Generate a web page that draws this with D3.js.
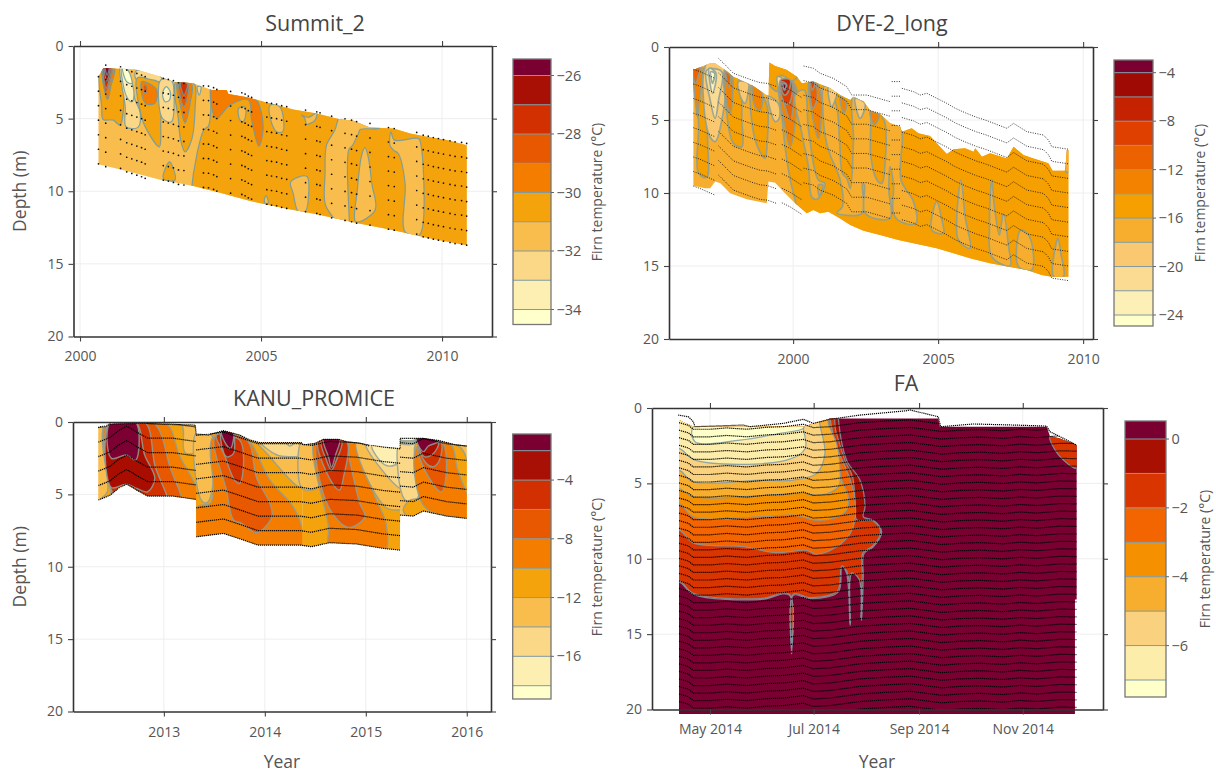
<!DOCTYPE html>
<html><head><meta charset="utf-8">
<script src="https://cdn.jsdelivr.net/npm/d3@7/dist/d3.min.js"></script>
<style>html,body{margin:0;background:#fff}svg{display:block;font-family:"Open Sans",sans-serif}</style>
</head><body><svg id="c" width="1216" height="773"></svg>
<script>
// ---------- shared colour ramps (coldest to warmest) ----------
const ramp10 = ["#ffffcb","#fdefb2","#fad888","#f9bd4e","#f5a30c","#f47d00","#e85800","#d23000","#a80f05","#7b0032"];
const ramp12 = ["#ffffcb","#fdf0b6","#fbdb92","#f9c870","#f7ae2e","#f5a000","#f38200","#ec6200","#df4000","#c42200","#a00a05","#7a0032"];
const ramp9  = ["#ffffca","#fdedab","#fad27f","#f7ae2e","#f59000","#f26500","#d93500","#a81002","#7a0032"];

// ---------- Summit_2 ----------
const summitLevels = [-34,-33,-32,-31,-30,-29,-28,-27,-26];
const summitTicks = [-34,-32,-30,-28,-26];
const summitTop = [[2000.51,2.11],[2000.64,1.54],[2001.52,1.6],[2002.21,2.1],[2002.58,2.46],[2003.13,2.57],[2003.64,3.03],[2004.05,3.03],[2004.1,3.3],[2004.65,3.54],[2004.97,3.77],[2005.43,4.07],[2005.89,4.37],[2006.26,4.53],[2006.54,4.64],[2007.14,5.03],[2007.55,5.15],[2008.01,5.61],[2008.66,5.68],[2009.12,6.02],[2009.58,6.25],[2010.13,6.48],[2010.68,6.83]];
const summitBottom = [[2000.51,8.14],[2001.29,8.6],[2002.21,9.2],[2003.13,9.63],[2003.87,10.1],[2004.7,10.67],[2005.71,11.2],[2006.54,11.59],[2007.64,12.18],[2008.66,12.69],[2009.58,13.2],[2010.68,13.72]];
const summitIsotherms = [
 [-31.5,[[1999.9,0],[2011,15]]],
 [-30.5,[[2003.41,15],[2003.41,5.8],[2003.55,5.5],[2003.62,3],[2003.62,0],[2011.5,0],[2011.5,15]]],
 [-31.5,[[2004.38,4.3],[2004.55,4.2],[2004.58,4.7],[2004.5,5.2],[2004.42,5.1]]],
 [-31.5,[[2005.25,4.07],[2005.52,4.18],[2005.6,5.9],[2005.43,5.9],[2005.27,5.1]]],
 [-31.5,[[2006.12,4.76],[2006.31,4.92],[2006.54,4.6],[2006.49,5.1],[2006.26,5.38],[2006.21,4.97]]],
 [-31.5,[[2005.82,9.36],[2006.26,8.97],[2006.31,10.4],[2006.22,11.4],[2006.03,11.4],[2005.89,10.16]]],
 [-31.5,[[2005.09,10.6],[2005.14,10.3],[2005.2,10.8],[2005.14,10.95]]],
 [-31.5,[[2007.14,4.92],[2007.04,5.79],[2006.81,6.83],[2006.77,8.78],[2006.77,10.85],[2006.95,11.66],[2007.09,12.1],[2007.2,13],[2007.44,13],[2007.44,12.2],[2007.42,7.17],[2007.53,6.83],[2007.69,6.02],[2007.74,5.75],[2008.29,5.61],[2008.3,5],[2007.2,4.5]]],
 [-31.5,[[2007.87,7.0],[2007.78,7.52],[2007.66,9.93],[2007.62,12.1],[2008.15,11.3],[2008.06,9.47],[2007.96,7.63]]],
 [-31.5,[[2008.59,5.91],[2008.68,6.48],[2009.35,6.37],[2009.41,6.71],[2009.37,13.03],[2008.98,12.8],[2008.98,9.47],[2008.79,7.4],[2008.66,7.17],[2008.56,6.83]]],
 [-30.5,[[2000.57,1.54],[2000.6,4.18],[2000.64,5.06],[2000.92,5.1],[2001.1,5.45],[2001.1,1.54]]],
 [-29.5,[[2000.63,1.4],[2000.66,2.8],[2000.76,3.68],[2000.85,2.8],[2000.95,1.4]]],
 [-28.5,[[2000.64,1.4],[2000.71,3.2],[2000.88,1.4]]],
 [-27.5,[[2000.66,1.4],[2000.72,2.9],[2000.85,1.4]]],
 [-26.5,[[2000.68,1.4],[2000.74,2.4],[2000.82,1.4]]],
 [-25.5,[[2000.7,1.4],[2000.75,2.0],[2000.8,1.4]]],
 [-32.5,[[2001.1,1.5],[2001.25,4.18],[2001.27,5.56],[2001.6,5.6],[2001.66,4.6],[2001.52,3.7],[2001.38,2.47],[2001.15,1.5]]],
 [-33.5,[[2001.15,1.5],[2001.29,3.5],[2001.43,3.84],[2001.49,3.38],[2001.38,2.1],[2001.2,1.5]]],
 [-34.5,[[2001.18,1.5],[2001.29,2.46],[2001.43,2.57],[2001.33,1.7]]],
 [-32.5,[[2001.55,1.7],[2002.2,2.0],[2002.25,2.4],[2001.55,2.3]]],
 [-30.5,[[2001.58,2.2],[2001.7,4.87],[2001.8,5.56],[2002.19,6.94],[2002.23,5.33],[2002.21,2.57],[2001.93,2.3]]],
 [-29.5,[[2001.7,2.46],[2001.75,3.72],[2001.84,4.0],[2002.07,3.95],[2002.12,3.03],[2001.89,2.57]]],
 [-28.5,[[2001.75,2.76],[2001.8,3.26],[2001.86,3.03],[2001.82,2.7]]],
 [-32.5,[[2002.23,2.34],[2002.25,4.87],[2002.39,5.2],[2002.53,5.2],[2002.6,3.7],[2002.53,2.4]]],
 [-33.5,[[2002.28,3.26],[2002.35,3.84],[2002.47,3.72],[2002.49,3.15],[2002.38,2.8]]],
 [-30.5,[[2002.65,2.46],[2002.72,5.1],[2002.78,6.48],[2002.9,7.29],[2003.08,6.48],[2003.18,4.18],[2003.15,2.57]]],
 [-29.5,[[2002.69,2.5],[2002.76,3.95],[2002.9,5.29],[2003.04,3.95],[2003.08,2.6]]],
 [-28.5,[[2002.74,2.5],[2002.87,4.18],[2002.99,2.6]]],
 [-27.5,[[2002.78,2.5],[2002.87,3.38],[2002.96,2.6]]],
 [-30.5,[[2002.47,7.98],[2002.3,9.13],[2002.62,9.24],[2002.56,8.32]]],
 [-32.5,[[2003.24,2.8],[2003.29,3.38],[2003.34,2.8]]],
 [-29.5,[[2003.64,2.69],[2003.76,5.0],[2004.14,4.07],[2004.65,3.72],[2004.74,5.1],[2004.94,6.9],[2005.06,5.56],[2004.88,3.72],[2004.65,3.38],[2004.05,2.8]]]
];
const summitDotTime = [2000.51,2000.71,2001.12,2001.29,2001.43,2001.57,2001.7,2001.8,2002.3,2002.44,2002.58,2002.72,2002.87,2003.41,2003.55,2003.69,2003.78,2004.16,2004.47,2004.56,2004.65,2004.74,2005.16,2005.29,2005.43,2005.57,2005.71,2006.23,2006.54,2006.63,2006.95,2007.32,2007.5,2007.64,2008.01,2008.52,2008.68,2009.3,2009.48,2009.62,2009.76,2009.9,2010.04,2010.22,2010.36,2010.54,2010.68];
const summitDotTop = [2.11,1.31,1.43,1.66,1.77,1.89,2.0,2.11,2.23,2.3,2.39,2.53,2.57,2.74,2.76,2.87,2.99,3.13,3.22,3.31,3.45,3.54,3.89,3.95,4.0,4.11,4.18,4.41,4.53,4.6,4.83,5.01,5.1,5.2,5.33,5.61,5.68,5.95,6.14,6.21,6.3,6.37,6.44,6.53,6.6,6.64,6.71];
const summitDotRows = [7,8,8,8,8,8,8,8,8,8,8,8,8,8,8,8,8,8,8,8,8,8,8,8,8,8,8,8,8,8,8,8,8,8,8,8,8,8,8,8,8,8,8,8,8,8,8];

// ---------- DYE-2_long ----------
const dyeLevels = [-24,-22,-20,-18,-16,-14,-12,-10,-8,-6,-4];
const dyeTicks = [-24,-20,-16,-12,-8,-4];
const dyeTop = [[1996.56,1.58],[1996.79,1.39],[1997.14,1.12],[1997.31,1.12],[1997.66,1.58],[1997.94,2.03],[1998.57,2.6],[1999.09,3.29],[1999.15,3.29],[1999.18,1.07],[1999.38,1.3],[1999.78,1.58],[2000.13,2.03],[2000.3,2.49],[2000.7,2.37],[2001.28,2.83],[2001.62,3.29],[2001.97,3.63],[2002.08,3.4],[2002.43,3.74],[2002.66,4.36],[2003.0,4.59],[2003.34,5.23],[2003.69,5.46],[2003.75,5.8],[2004.09,5.57],[2004.32,5.91],[2004.72,6.1],[2004.95,6.6],[2005.3,7.33],[2005.53,7.01],[2005.93,6.94],[2006.22,7.17],[2006.28,6.94],[2006.51,7.51],[2006.79,7.28],[2007.37,7.63],[2007.6,6.83],[2007.94,7.4],[2008.29,7.63],[2008.8,7.97],[2008.95,8.47],[2009.38,8.47],[2009.44,7.05],[2009.49,7.05]];
const dyeBottom = [[1996.56,9.5],[1996.96,9.68],[1997.14,9.68],[1997.31,9.22],[1997.49,9.34],[1997.83,10.02],[1998.4,10.43],[1999.09,10.71],[1999.15,9.22],[1999.38,9.29],[1999.72,10.02],[2000.07,10.71],[2000.47,11.39],[2000.7,11.16],[2000.93,11.39],[2001.22,11.28],[2001.62,11.74],[2001.97,12.19],[2002.43,12.58],[2003.0,12.88],[2003.63,13.22],[2004.15,13.45],[2004.95,13.79],[2005.53,14.13],[2006.1,14.47],[2006.79,14.82],[2007.43,15.05],[2008.06,15.27],[2008.57,15.62],[2008.92,15.73],[2009.49,15.73],[2009.49,14.7]];
const dyeIsotherms = [
 [-17,[[1996,0],[2010,20]]],
 [-15,[[1999.55,2.2],[1999.67,5.9],[1999.9,9.1],[2000.07,10.5],[2000.13,11.4],[2000.13,18],[2010.5,18],[2010.5,0],[1999.6,0]]],
 [-15,[[1996.59,1.46],[1996.74,5.23],[1996.74,8.65],[1997.02,8.93],[1997.05,6.37],[1996.91,1.46]]],
 [-13,[[1996.56,1.46],[1996.62,3.4],[1996.7,4.77],[1996.79,3.4],[1996.85,1.58]]],
 [-11,[[1996.56,1.46],[1996.63,2.49],[1996.76,1.8],[1996.79,1.46]]],
 [-19,[[1996.93,1.58],[1997.08,5.91],[1997.31,6.48],[1997.54,5.0],[1997.66,1.35],[1997.14,0.89]]],
 [-21,[[1997.02,1.58],[1997.14,3.63],[1997.31,4.89],[1997.43,3.63],[1997.54,1.69]]],
 [-23,[[1997.11,1.46],[1997.22,3.17],[1997.34,1.8]]],
 [-25,[[1997.16,1.69],[1997.22,2.49],[1997.29,1.8]]],
 [-15,[[1997.66,1.46],[1997.71,4.54],[1997.94,6.6],[1998.23,6.83],[1998.23,5.0],[1998.15,2.26],[1997.83,1.69]]],
 [-13,[[1997.66,1.69],[1997.71,3.86],[1997.83,4.54],[1997.92,2.95],[1997.89,1.92]]],
 [-11,[[1997.69,1.69],[1997.77,2.72],[1997.85,2.03]]],
 [-19,[[1998.11,2.37],[1998.23,3.63],[1998.34,3.86],[1998.46,2.95],[1998.46,2.49]]],
 [-15,[[1998.57,2.6],[1998.69,6.37],[1999.03,7.63],[1999.11,6.37],[1999.11,4.09],[1998.92,3.29]]],
 [-13,[[1998.61,2.6],[1998.69,4.09],[1998.86,4.36],[1998.94,3.29],[1998.77,2.72]]],
 [-19,[[1999.15,3.4],[1999.38,5.11],[1999.52,4.89],[1999.49,3.86]]],
 [-15,[[1999.11,0.89],[1999.11,2.37],[1999.49,3.06],[1999.84,2.49],[2000.13,2.08],[2000.13,0.89]]],
 [-17,[[1999.45,2.2],[1999.6,1.95],[1999.8,2.2],[1999.62,2.35]]],
 [-21,[[1999.46,2.03],[1999.57,3.63],[1999.61,2.15]]],
 [-13,[[1999.55,2.6],[1999.72,5.46],[1999.9,6.83],[2000.07,5.23],[2000.13,2.95],[1999.95,2.37]]],
 [-11,[[1999.55,2.49],[1999.76,4.32],[1999.9,5.0],[2000.01,3.86],[1999.99,2.49]]],
 [-9,[[1999.55,2.37],[1999.72,3.86],[1999.86,3.86],[1999.95,2.37]]],
 [-7,[[1999.57,2.26],[1999.69,3.29],[1999.8,3.17],[1999.9,2.26]]],
 [-5,[[1999.61,2.37],[1999.7,2.95],[1999.78,2.6]]],
 [-3,[[1999.64,2.49],[1999.7,2.9],[1999.76,2.6]]],
 [-17,[[2000.07,3.29],[2000.3,5.91],[2000.53,8.2],[2000.64,10.25],[2000.82,10.43],[2001.1,9.34],[2000.87,9.11],[2000.53,5.68],[2000.38,2.95]]],
 [-15,[[2000.87,9.45],[2001.03,9.45],[2000.9,10.2]]],
 [-13,[[2000.56,2.37],[2000.61,4.09],[2000.87,6.26],[2000.99,4.09],[2000.93,2.95],[2000.82,2.49]]],
 [-11,[[2000.59,2.3],[2000.68,4.2],[2000.82,3.63],[2000.79,2.6]]],
 [-9,[[2000.61,2.37],[2000.66,2.95],[2000.74,2.49]]],
 [-17,[[2001.05,2.72],[2001.22,2.72],[2001.51,4.2],[2001.6,6.37],[2001.7,8.65],[2001.85,9.0],[2001.97,9.68],[2002.08,6.37],[2002.08,3.29],[2002.54,3.74],[2002.66,4.43],[2002.68,7.51],[2002.89,9.11],[2003.06,9.34],[2003.17,7.97],[2003.17,5.23],[2003.06,4.66],[2003.69,5.34],[2003.72,9.11],[2004.15,10.59],[2004.23,12.08],[2003.69,11.96],[2003.46,11.39],[2003.46,9.34],[2003.34,8.2],[2003.3,9.79],[2003.34,11.74],[2002.48,11.39],[2002.46,9.45],[2002.39,9.34],[2002.37,11.39],[2001.51,11.35],[2001.7,10.94],[2001.62,9.11],[2001.28,7.4],[2001.13,6.37],[2001.02,4.09]]],
 [-19,[[2002.14,3.52],[2002.31,4.89],[2002.48,3.86]]],
 [-19,[[2001.22,2.72],[2001.33,4.09],[2001.51,2.95]]],
 [-13,[[2002.66,4.43],[2002.8,5.34],[2002.97,4.66]]],
 [-13,[[2001.62,3.4],[2001.74,4.54],[2001.85,3.86]]],
 [-17,[[2004.95,10.59],[2004.78,12.53],[2005.18,12.76],[2005.13,11.85]]],
 [-17,[[2005.79,9.11],[2005.64,11.85],[2005.7,13.22],[2006.1,13.79],[2005.93,11.62]]],
 [-17,[[2006.85,9.06],[2006.77,12.3],[2006.85,14.36],[2007.48,15.0],[2007.43,13.68],[2007.25,11.39],[2007.11,12.88],[2006.94,10.94]]],
 [-17,[[2007.85,12.53],[2007.77,15.05],[2008.23,15.27],[2008.15,12.99]]],
 [-17,[[2009.13,13.1],[2008.98,15.73],[2009.32,15.73],[2009.23,14.13]]],
 [-17,[[2009.44,7.05],[2009.41,8.55],[2009.55,8.55],[2009.55,7.05]]]
];
const dyeSensorTops = [
 [[1996.56,1.53],[1996.79,1.69],[1997.31,2.15]],
 [[1997.43,0.78],[1997.66,1.23],[1997.94,1.8],[1998.57,2.26],[1998.86,2.44],[1999.11,2.49],[1999.44,2.72]],
 [[1999.61,2.67],[1999.9,2.95],[2000.3,3.47]],
 [[2000.36,1.3],[2000.7,1.46],[2000.93,1.8],[2001.39,2.15],[2001.85,2.72],[2002.02,3.29],[2002.54,3.29],[2003.34,3.74]],
 [[2003.4,2.37],[2003.69,2.37]],
 [[2003.75,2.83],[2004.15,3.06],[2004.38,3.29],[2004.61,3.17],[2005.3,3.86],[2005.59,4.2],[2005.93,4.5],[2006.33,4.82],[2006.62,5.0],[2007.37,5.57],[2007.6,5.23],[2008.06,5.8],[2008.63,6.03],[2008.8,6.37],[2008.92,6.83],[2009.49,7.0]]
];
const dyeSensorRows = [9,9,9,9,10,10];

// ---------- KANU_PROMICE ----------
const kanuLevels = [-18,-16,-14,-12,-10,-8,-6,-4,-2];
const kanuTicks = [-16,-12,-8,-4];
const kanuTop = [[2012.35,0.37],[2012.42,0.32],[2012.47,0.14],[2012.83,0.09],[2012.99,0.16],[2013.31,0.21],[2013.32,0.83],[2013.44,0.9],[2013.59,0.6],[2013.75,0.9],[2013.85,1.24],[2013.95,1.43],[2014.36,1.43],[2014.38,1.59],[2014.5,1.47],[2014.58,1.2],[2014.73,1.2],[2014.81,1.36],[2014.94,1.47],[2015.04,1.66],[2015.34,1.82],[2015.34,1.13],[2015.57,1.13],[2015.73,1.29],[2015.9,1.59],[2016.0,1.66]];
const kanuBottom = [[2012.35,5.39],[2012.47,5.05],[2012.56,4.5],[2012.63,4.29],[2012.73,4.7],[2012.84,5.12],[2013.09,5.12],[2013.32,5.35],[2013.32,7.93],[2013.59,7.7],[2013.79,8.16],[2013.93,8.5],[2014.35,8.5],[2014.46,8.62],[2014.64,8.34],[2014.91,8.43],[2015.17,8.73],[2015.34,8.85],[2015.34,6.43],[2015.47,6.5],[2015.57,6.15],[2015.8,6.5],[2016.0,6.66]];
const kanuIsotherms = [
 [-13,[[2012.2,0],[2013.32,6]]],
 [-11,[[2012.43,0],[2012.44,4.82],[2012.36,5.5],[2012.5,6.3],[2013.36,6.3],[2013.36,2.28],[2013.21,2.12],[2013.16,0]]],
 [-9,[[2012.44,0],[2012.47,4.59],[2012.53,6.08],[2013.36,6.08],[2013.31,4.35],[2013.16,2.4],[2013.01,0]]],
 [-7,[[2012.46,0],[2012.48,4.59],[2012.56,6.08],[2013.17,6.08],[2013.06,3.09],[2012.89,0]]],
 [-5,[[2012.47,0],[2012.48,4.7],[2012.66,6.08],[2013.04,6.08],[2012.91,2.97],[2012.81,0]]],
 [-3,[[2012.47,0],[2012.48,4.52],[2012.63,4.29],[2012.73,4.59],[2012.84,4.82],[2012.91,3.89],[2012.81,2.28],[2012.72,0]]],
 [-1,[[2012.47,0],[2012.48,2.51],[2012.63,2.28],[2012.72,2.63],[2012.72,0]]],
 [-11,[[2013.32,0],[2014.37,9.5]]],
 [-13,[[2013.32,0.78],[2013.37,5.39],[2013.42,5.58],[2013.46,5.21],[2013.47,0.9]]],
 [-9,[[2013.32,5.92],[2013.46,5.62],[2013.49,4.7],[2013.49,1.01],[2013.8,1.01],[2014.05,4.01],[2014.28,5.85],[2014.36,7.12],[2014.38,9.5],[2013.32,9.5]]],
 [-7,[[2013.51,1.01],[2013.62,4.7],[2013.69,6.77],[2013.77,7.0],[2013.92,7.65],[2014.07,6.54],[2014.05,5.62],[2013.92,3.89],[2013.82,1.24]]],
 [-5,[[2013.52,0.9],[2013.6,2.28],[2013.7,4.01],[2013.75,4.24],[2013.79,2.63],[2013.75,1.24]]],
 [-3,[[2013.57,0.67],[2013.62,2.4],[2013.69,2.17],[2013.7,1.24],[2013.69,0.5]]],
 [-1,[[2013.57,0.6],[2013.62,1.59],[2013.66,1.82],[2013.69,0.78],[2013.65,0.4]]],
 [-13,[[2013.9,1.0],[2014.05,2.4],[2014.37,4.52],[2014.4,1.0]]],
 [-15,[[2013.95,1.3],[2014.12,2.28],[2014.25,2.4],[2014.36,2.28],[2014.4,1.3]]],
 [-17,[[2014.21,1.4],[2014.25,1.66],[2014.29,1.4]]],
 [-11,[[2014.37,0],[2015.34,9.5]]],
 [-13,[[2014.37,1.2],[2014.5,1.2],[2014.53,4.47],[2014.37,4.59]]],
 [-9,[[2014.5,1.0],[2014.63,7.23],[2014.64,8.6],[2014.97,8.6],[2015.19,8.9],[2015.2,7.0],[2015.09,5.16],[2014.87,1.0]]],
 [-13,[[2014.91,1.0],[2015.19,5.85],[2015.34,6.08],[2015.4,6.0],[2015.4,1.0]]],
 [-15,[[2014.99,1.2],[2015.34,4.59],[2015.4,4.6],[2015.4,1.2]]],
 [-17,[[2015.06,1.59],[2015.19,2.97],[2015.29,2.97],[2015.34,2.63],[2015.36,1.66]]],
 [-7,[[2014.53,1.2],[2014.63,5.85],[2014.83,7.28],[2014.99,6.54],[2014.94,5.62],[2014.84,2.63],[2014.8,1.24]]],
 [-5,[[2014.53,1.3],[2014.68,4.35],[2014.74,4.7],[2014.78,3.78],[2014.81,1.36]]],
 [-3,[[2014.56,1.24],[2014.61,2.63],[2014.66,3.32],[2014.71,2.63],[2014.76,1.29]]],
 [-1,[[2014.58,1.13],[2014.63,2.4],[2014.66,3.13],[2014.7,2.28],[2014.74,1.13]]],
 [-13,[[2015.34,0],[2016.1,7]]],
 [-15,[[2015.34,1.24],[2015.39,5.39],[2015.5,5.39],[2015.51,1.24]]],
 [-17,[[2015.34,1.1],[2015.5,1.1],[2015.48,1.5],[2015.34,1.45]]],
 [-19,[[2015.34,1.1],[2015.5,1.1],[2015.48,1.4],[2015.34,1.35]]],
 [-19,[[2015.34,1.1],[2015.5,1.1],[2015.48,1.32],[2015.34,1.28]]],
 [-19,[[2015.34,1.1],[2015.5,1.1],[2015.48,1.25],[2015.34,1.22]]],
 [-11,[[2015.5,1.47],[2015.55,5.16],[2015.44,5.39],[2015.37,6.08],[2015.47,6.77],[2016.05,6.77],[2016.05,4.93],[2015.93,1.7]]],
 [-9,[[2015.51,1.7],[2015.58,5.85],[2015.86,6.54],[2016.05,6.54],[2015.91,3.32],[2015.83,1.47]]],
 [-7,[[2015.52,1.59],[2015.62,3.78],[2015.75,4.82],[2015.8,2.97],[2015.75,1.36]]],
 [-5,[[2015.52,1.47],[2015.6,2.86],[2015.67,3.09],[2015.73,2.63],[2015.74,1.36]]],
 [-3,[[2015.52,1.24],[2015.58,2.4],[2015.67,2.17],[2015.72,1.36]]],
 [-1,[[2015.5,1.13],[2015.57,2.05],[2015.62,1.66],[2015.72,1.36],[2015.58,1.06]]]
];
const kanuSensorBases = [
 [[2012.35,5.39],[2012.42,5.2],[2012.47,5.05],[2012.55,4.6],[2012.63,4.29],[2012.68,4.47],[2012.73,4.7],[2012.84,5.12],[2013.09,5.12],[2013.32,5.35]],
 [[2013.32,7.93],[2013.59,7.7],[2013.79,8.16],[2013.93,8.5],[2014.35,8.5],[2014.46,8.62],[2014.64,8.34],[2014.91,8.43],[2015.17,8.73],[2015.34,8.85]],
 [[2015.34,6.43],[2015.47,6.5],[2015.57,6.15],[2015.8,6.5],[2016.0,6.66]]
];
const kanuSensorRows = [6,8,6];

// ---------- FA ----------
const faLevels = [-7,-6,-5,-4,-3,-2,-1,0];
const faTicks = [-6,-4,-2,0];
const faTickDays = [121,182,244,305];
const faTickLabels = ["May 2014","Jul 2014","Sep 2014","Nov 2014"];
const faTop = [[102.8,0.8],[111.2,1.24],[175.9,1.24],[190.6,0.75],[191.6,0.69],[255.3,0.69],[256.3,1.24],[319,1.24],[321,1.86],[326.9,2.02],[336.7,2.46]];
const faBottom = [[102.8,20.3],[335.7,20.3],[335.7,12.7],[336.7,12.7]];
const faIsotherms = [
 [0.5,[[90,0],[345,21]]],
 [-0.5,[[196.5,0],[196.5,0.69],[201.4,3.46],[209.2,4.78],[212.2,6.56],[211.2,7.22],[217.1,7.44],[222,8.22],[217.1,9.21],[211.6,9.66],[211.2,11.21],[210.2,14.09],[208.8,11.0],[204.3,10.99],[203.4,14.42],[201.4,10.99],[198.5,10.43],[196.5,12.2],[179.8,12.65],[170,12.43],[169,16.3],[167.7,12.43],[150.4,12.71],[111.2,12.36],[102.8,11.54],[90,11.54],[90,0]]],
 [-1.5,[[191.6,0],[195,1.5],[200.4,3.46],[204.9,4.56],[206.3,6.11],[207.3,7.4],[217.1,7.49],[221.4,8.22],[216.6,9.17],[211,9.61],[210.6,11.0],[209.8,13.9],[208.8,11.38],[204.3,10.94],[203.6,14.3],[201.9,10.94],[198.5,10.48],[196,12.14],[179.8,12.58],[170,12.36],[169,15.9],[167.7,12.36],[150.4,12.65],[111.2,12.29],[102.8,11.47],[90,11.47],[90,0]]],
 [-1.5,[[321,1.86],[337,2.4],[337,4.0],[326.9,3.23],[321,2.1]]],
 [-2.5,[[191,0],[191.6,0.69],[195.5,2.57],[201.4,4.12],[205.7,5.67],[206.3,7.44],[203.4,8.33],[195.5,9.21],[183.7,9.7],[177.8,9.44],[160,9.6],[140.6,9.2],[111.2,8.95],[102.8,8.1],[90,8.1],[90,0]]],
 [-3.5,[[189.6,0],[189.6,0.8],[198.5,4.78],[202.4,5.89],[201.4,6.78],[193.5,7.33],[183.7,7.44],[170,7.11],[150.4,7.22],[111.2,7.22],[102.8,6.33],[90,6.33],[90,0]]],
 [-4.5,[[190,0],[190.6,1.02],[195.5,2.35],[197.5,4.12],[196.5,5.23],[185.7,5.78],[175.9,5.67],[111.2,5.89],[102.8,5.34],[90,5.34],[90,0]]],
 [-5.5,[[184,0],[185.7,1.13],[188.6,3.01],[183.7,4.34],[170,4.78],[150.4,4.78],[111.2,4.89],[102.8,4.12],[90,4.12],[90,0]]],
 [-6.5,[[174,0],[175.9,1.35],[177,2.68],[166,3.46],[112.2,3.46],[102.8,2.68],[90,2.68],[90,0]]],
 [-7.5,[[175.9,1.35],[162.2,1.68],[138.6,2.13],[112.2,2.24],[111.2,1.24],[140,1.0],[175.9,1.1]]]
];
const faSurface = [[102.3,0.47],[108.3,0.58],[111.2,0.91],[112.2,1.24],[140.6,1.13],[144.5,1.24],[164.1,1.02],[175.9,0.75],[181.8,1.02],[191.6,0.75],[209.2,0.47],[236.7,0.18],[238.6,0.13],[255.3,0.58],[256.7,1.24],[275.9,1.06],[299.4,1.13],[319,1.2],[321,1.57],[326.9,1.9],[336.7,2.46]];
const faRowShape = [[102.8,0],[108.3,0.18],[111.2,0.44],[121,0.44],[130.8,0.35],[142.6,0.44],[154.3,0.31],[164.1,0.27],[175.9,0.11],[181.8,0.33],[191.6,0.27],[209.2,0],[224.9,-0.11],[238.6,-0.18],[248.5,-0.04],[257.3,0.09],[268.1,0],[279.8,-0.04],[293.5,0.04],[303.4,-0.07],[313.2,0],[326.9,-0.13],[336.7,-0.11]];
const faRowCount = 40;

// ---------- drawing ----------
const svg = d3.select("#c");
const textColor = "#555";
const defs = svg.append("defs");
defs.append("filter").attr("id","soft").attr("x","-5%").attr("y","-5%").attr("width","110%").attr("height","110%").append("feGaussianBlur").attr("stdDeviation",0.7);
defs.append("filter").attr("id","softDots").attr("x","-5%").attr("y","-5%").attr("width","110%").attr("height","110%").append("feGaussianBlur").attr("stdDeviation",0.3);
const polygon = (x,y) => d3.line().x(d=>x(d[0])).y(d=>y(d[1]));
const smoothOutline = (x,y) => polygon(x,y).curve(d3.curveCatmullRomClosed.alpha(0.5));
const fmtTemp = d => d3.format("d")(d).replace("-","\u2212");

function frame(p){
  const g = svg.append("g");
  const x = d3.scaleLinear().domain(p.xd).range([p.l,p.r]);
  const y = d3.scaleLinear().domain([0,20]).range([p.t,p.b]);
  g.append("g").selectAll("line").data(p.xTicks).join("line").attr("x1",x).attr("x2",x).attr("y1",p.t).attr("y2",p.b).attr("stroke","#eeeeee");
  g.append("g").selectAll("line").data([5,10,15]).join("line").attr("y1",y).attr("y2",y).attr("x1",p.l).attr("x2",p.r).attr("stroke","#eeeeee");
  return {g,x,y};
}
function axes(p,f){
  const {g,x,y} = f;
  const fmt = p.xFormat || d3.format("d");
  const style = s => { s.select(".domain").attr("stroke","#333").attr("stroke-width",1.6);
    s.selectAll(".tick line").attr("stroke","#444").attr("stroke-width",1.1);
    s.selectAll("text").attr("fill",textColor).style("font-size","14px").style("font-family",'"Open Sans",sans-serif'); };
  g.append("g").attr("transform",`translate(0,${p.b})`).call(d3.axisBottom(x).tickValues(p.xTicks).tickFormat(fmt).tickSize(5).tickSizeOuter(0).tickPadding(p.xPad)).call(style);
  g.append("g").attr("transform",`translate(0,${p.t})`).call(d3.axisTop(x).tickValues(p.xTicks).tickFormat("").tickSize(5).tickSizeOuter(0)).call(style);
  g.append("g").attr("transform",`translate(${p.l},0)`).call(d3.axisLeft(y).tickValues([0,5,10,15,20]).tickSize(5).tickSizeOuter(0).tickPadding(5)).call(style);
  g.append("g").attr("transform",`translate(${p.r},0)`).call(d3.axisRight(y).tickValues([0,5,10,15,20]).tickFormat("").tickSize(5).tickSizeOuter(0)).call(style);
  g.append("text").attr("x",p.titleX).attr("y",p.titleY).attr("text-anchor","middle").attr("fill","#444").style("font-size","21.5px").text(p.title);
  if(p.xLabel) g.append("text").attr("x",p.xLabelX).attr("y",p.xLabelY).attr("text-anchor","middle").attr("fill","#555").style("font-size","17.5px").text(p.xLabel);
  if(p.yLabel) g.append("text").attr("transform",`translate(${p.yLabelX},${(p.t+p.b)/2}) rotate(-90)`).attr("text-anchor","middle").attr("fill","#555").style("font-size","17.5px").text(p.yLabel);
}
function makeClip(id,f,top,bottom,pad){
  const pts = top.map(d=>[d[0],d[1]-pad]).concat(bottom.slice().reverse().map(d=>[d[0],d[1]+pad]));
  svg.append("clipPath").attr("id",id).append("path").attr("d",polygon(f.x,f.y)(pts)+"Z");
}
function field(f,id,isotherms,colour,strokeW,strokeC){
  const line = smoothOutline(f.x,f.y);
  const g = f.g.append("g").attr("filter","url(#soft)").append("g").attr("clip-path",`url(#${id})`);
  isotherms.forEach(([temp,pts])=>{
    if(pts.length===2){
      g.append("rect").attr("x",f.x(pts[0][0])).attr("y",f.y(pts[0][1]))
       .attr("width",f.x(pts[1][0])-f.x(pts[0][0])).attr("height",f.y(pts[1][1])-f.y(pts[0][1])).attr("fill",colour(temp));
    } else {
      g.append("path").attr("d",line(pts)).attr("fill",colour(temp)).attr("stroke",strokeC).attr("stroke-width",strokeW).attr("stroke-opacity",.85).attr("stroke-linejoin","round");
    }
  });
}
function colorbar(levels,ticks,colors,b){
  const g = svg.append("g");
  const y = d3.scaleLinear().domain([levels[0],levels[levels.length-1]]).range([b.y0,b.y1]);
  const edges = [b.bot].concat(levels.map(y),[b.top]);
  colors.forEach((c,i)=>g.append("rect").attr("x",b.l).attr("width",b.r-b.l).attr("y",edges[i+1]).attr("height",edges[i]-edges[i+1]).attr("fill",c));
  g.selectAll("line.sep").data(levels).join("line").attr("x1",b.l).attr("x2",b.r).attr("y1",y).attr("y2",y).attr("stroke","#7f9aa0").attr("stroke-width",1);
  g.append("rect").attr("x",b.l).attr("y",b.top).attr("width",b.r-b.l).attr("height",b.bot-b.top).attr("fill","none").attr("stroke","#777").attr("stroke-width",1.3);
  g.selectAll("line.t").data(ticks).join("line").attr("x1",b.r).attr("x2",b.r+3).attr("y1",y).attr("y2",y).attr("stroke","#666");
  g.selectAll("text.t").data(ticks).join("text").attr("x",b.r+5.5).attr("y",d=>y(d)+5).attr("fill",textColor).style("font-size","14.5px").text(fmtTemp);
  g.append("text").attr("transform",`translate(${b.titleX},${b.titleY}) rotate(-90)`).attr("text-anchor","middle").attr("fill","#555").style("font-size","14px").text("Firn temperature (°C)");
}
const dotLine = (g,x,y,pts,w,dash) => g.append("path").attr("d",polygon(x,y)(pts)).attr("fill","none").attr("stroke","#000").attr("stroke-width",w).attr("stroke-dasharray",dash);

// --- Summit
const p1 = {l:73.5,r:492,t:46,b:336.5,xd:[1999.82,2011.38],xTicks:[2000,2005,2010],xPad:10,title:"Summit_2",titleX:315,titleY:31,yLabel:"Depth (m)",yLabelX:26};
const f1 = frame(p1);
makeClip("c1",f1,summitTop,summitBottom,0);
field(f1,"c1",summitIsotherms,d3.scaleThreshold(summitLevels,ramp10),1.2,"#6f9aa6");
f1.g.append("g").attr("filter","url(#softDots)").selectAll("circle").data(summitDotTime.flatMap((t,i)=>d3.range(summitDotRows[i]).map(k=>[t,summitDotTop[i]+k])))
  .join("circle").attr("cx",d=>f1.x(d[0])).attr("cy",d=>f1.y(d[1])).attr("r",0.85).attr("fill","#111");
axes(p1,f1);
colorbar(summitLevels,summitTicks,ramp10,{l:513,r:551,top:59,bot:324.5,y0:309.5,y1:75.5,titleX:602,titleY:192});

// --- DYE-2
const p2 = {l:669,r:1093,t:47,b:339,xd:[1995.72,2010.34],xTicks:[2000,2005,2010],xPad:10,title:"DYE-2_long",titleX:892,titleY:31};
const f2 = frame(p2);
makeClip("c2",f2,dyeTop,dyeBottom,0);
field(f2,"c2",dyeIsotherms,d3.scaleThreshold(dyeLevels,ramp12),1.7,"#8b9f97");
const g2s = f2.g.append("g").attr("filter","url(#softDots)").attr("opacity",.8);
dyeSensorTops.forEach((seg,i)=>d3.range(dyeSensorRows[i]).forEach(k=>dotLine(g2s,f2.x,f2.y,seg.map(d=>[d[0],d[1]+k]),1,"1 1.4")));
axes(p2,f2);
colorbar(dyeLevels,dyeTicks,ramp12,{l:1114,r:1153,top:60,bot:326,y0:315,y1:72.7,titleX:1205,titleY:193});

// --- KANU
const p3 = {l:73,r:491,t:422,b:711.5,xd:[2012.1,2016.24],xTicks:[2013,2014,2015,2016],xPad:11,title:"KANU_PROMICE",titleX:314,titleY:406,xLabel:"Year",xLabelX:282,xLabelY:768,yLabel:"Depth (m)",yLabelX:26};
const f3 = frame(p3);
makeClip("c3",f3,kanuTop,kanuBottom,0);
makeClip("c3s",f3,kanuTop,kanuBottom,0.08);
field(f3,"c3",kanuIsotherms,d3.scaleThreshold(kanuLevels,ramp10),1.4,"#8f9f96");
const g3s = f3.g.append("g").attr("clip-path","url(#c3s)");
dotLine(f3.g,f3.x,f3.y,kanuTop.filter((d,i)=>i<20),1.2,"1.2 .8");
dotLine(f3.g,f3.x,f3.y,kanuTop.filter((d,i)=>i>=20),1.2,"1.2 .8");
kanuSensorBases.forEach((seg,i)=>d3.range(kanuSensorRows[i]).forEach(k=>dotLine(g3s,f3.x,f3.y,seg.map(d=>[d[0],d[1]-k]),1.2,"1.2 .8")));
axes(p3,f3);
colorbar(kanuLevels,kanuTicks,ramp10,{l:512.7,r:551,top:434,bot:699,y0:685.7,y1:450.7,titleX:602,titleY:567});

// --- FA
const p4 = {l:652,r:1103,t:408,b:709.5,xd:[86.9,352.2],xTicks:faTickDays,xFormat:(d,i)=>faTickLabels[i],xPad:10,title:"FA",titleX:906,titleY:391,xLabel:"Year",xLabelX:877,xLabelY:768};
const f4 = frame(p4);
makeClip("c4",f4,faTop,faBottom,0);
svg.append("clipPath").attr("id","c4s").append("path").attr("d",polygon(f4.x,f4.y)(faSurface.concat([[336.7,20],[102.3,20]]))+"Z");
field(f4,"c4",faIsotherms,d3.scaleThreshold(faLevels,ramp9),1.2,"#7f9aa6");
const g4s = f4.g.append("g").attr("clip-path","url(#c4s)");
dotLine(f4.g,f4.x,f4.y,faSurface,1.2,"1.2 .8");
d3.range(1,faRowCount).forEach(k=>dotLine(g4s,f4.x,f4.y,faRowShape.map(d=>[d[0],faSurface[0][1]+0.5*k+d[1]]),1.2,"1.2 .8"));
axes(p4,f4);
colorbar(faLevels,faTicks,ramp9,{l:1125,r:1166,top:421,bot:697,y0:680,y1:439,titleX:1210,titleY:559});
</script></body></html>
